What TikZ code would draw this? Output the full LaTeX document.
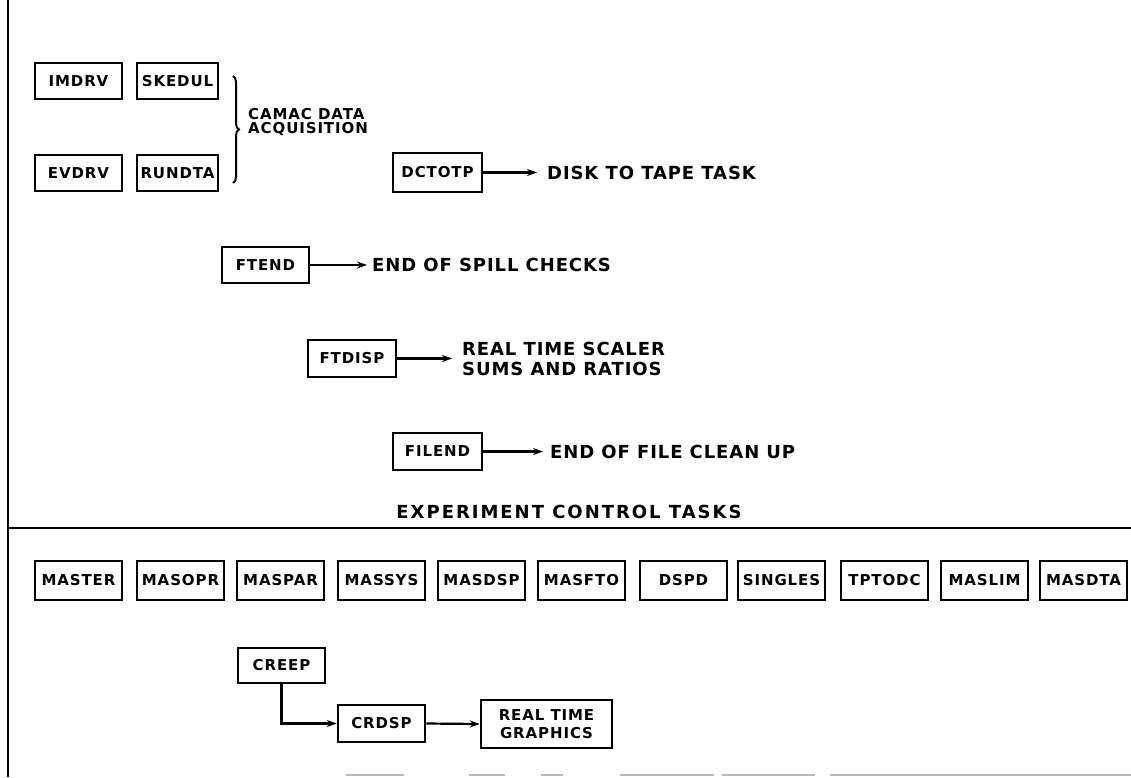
\documentclass[tikz,border=0pt]{standalone}
\usepackage{fontspec}
\usetikzlibrary{arrows.meta,decorations.pathreplacing}
\newfontfamily\boxfam{DejaVu Sans}[LetterSpace=6]
\newfontfamily\sidefam{DejaVu Sans}[LetterSpace=5]
\newfontfamily\titlefam{DejaVu Sans}[LetterSpace=11]
\tikzset{
  box/.style={draw, line width=2.6pt, minimum width=87pt, minimum height=37pt, inner sep=0pt,
    font=\boxfam\bfseries\fontsize{15}{18}\selectfont, align=center},
  side/.style={anchor=west, inner sep=0pt, align=left,
    font=\sidefam\bfseries\fontsize{18}{20}\selectfont},
  arr/.style={line width=2.2pt, -{Stealth[length=10pt,width=7pt]}},
  frame/.style={line width=2.2pt},
}
\begin{document}
\begin{tikzpicture}[x=1pt,y=-1pt]
\useasboundingbox (0,0) rectangle (1131,777);
% frame lines
\coordinate (ltop) at (8,0);
\coordinate (lbot) at (8,777);
\coordinate (hl) at (8,528);
\coordinate (hr) at (1131,528);
\draw[frame] (ltop) -- (lbot);
\draw[frame] (hl) -- (hr);
% faint broken bottom line
\draw[gray!55, line width=1.2pt] (346,775) -- (404,775) (469,775) -- (505,775) (541,775) -- (563,775)
  (620,775) -- (714,775) (722,775) -- (815,775) (830,775) -- (1131,775);

% CAMAC group
\node[box, minimum height=36pt] (imdrv) at (78.5,81) {IMDRV};
\node[box, minimum height=36pt, minimum width=81pt] (skedul) at (177.5,81) {SKEDUL};
\node[box, minimum height=36pt] (evdrv) at (78.5,173) {EVDRV};
\node[box, minimum height=36pt, minimum width=81pt] (rundta) at (177.5,173) {RUNDTA};
\draw[decorate, decoration={brace, amplitude=6pt}, line width=2pt] (233,76) -- (233,183);
\node[anchor=west, inner sep=0pt, align=left,
  font=\boxfam\bfseries\fontsize{15}{14}\selectfont] (camac) at (248,122) {CAMAC DATA\\ACQUISITION};

% DCTOTP
\node[box, minimum width=89pt, minimum height=39pt] (dctotp) at (437.5,172.5) {DCTOTP};
\coordinate (dctotpE) at (537,172.5);
\draw[arr] (dctotp.east) -- (dctotpE);
\node[side] (disk) at (547,172.5) {DISK TO TAPE TASK};

% FTEND
\node[box, minimum height=36pt] (ftend) at (265.5,265) {FTEND};
\coordinate (ftendE) at (367,265);
\draw[arr] (ftend.east) -- (ftendE);
\node[side] (spill) at (372,265) {END OF SPILL CHECKS};

% FTDISP
\node[box, minimum width=88pt] (ftdisp) at (352,358.5) {FTDISP};
\coordinate (ftdispE) at (452,358.5);
\draw[arr] (ftdisp.east) -- (ftdispE);
\node[side] (scaler) at (462,358.5) {REAL TIME SCALER\\SUMS AND RATIOS};

% FILEND
\node[box, minimum width=89pt] (filend) at (437.5,451.5) {FILEND};
\coordinate (filendE) at (543,451.5);
\draw[arr] (filend.east) -- (filendE);
\node[side] (eof) at (550,451.5) {END OF FILE CLEAN UP};

% title
\node[inner sep=0pt, font=\titlefam\bfseries\fontsize{18}{20}\selectfont] (title) at (569,512) {EXPERIMENT CONTROL TASKS};

% row of control tasks
\node[box, minimum height=39pt] (master) at (78.5,580.5) {MASTER};
\node[box, minimum height=39pt] (masopr) at (180.5,580.5) {MASOPR};
\node[box, minimum height=39pt] (maspar) at (280.5,580.5) {MASPAR};
\node[box, minimum height=39pt] (massys) at (381.5,580.5) {MASSYS};
\node[box, minimum height=39pt] (masdsp) at (481.5,580.5) {MASDSP};
\node[box, minimum height=39pt] (masfto) at (581.5,580.5) {MASFTO};
\node[box, minimum height=39pt] (dspd) at (683.5,580.5) {DSPD};
\node[box, minimum height=39pt] (singles) at (781.5,580.5) {SINGLES};
\node[box, minimum height=39pt] (tptodc) at (884.5,580.5) {TPTODC};
\node[box, minimum height=39pt] (maslim) at (984.5,580.5) {MASLIM};
\node[box, minimum height=39pt] (masdta) at (1083.5,580.5) {MASDTA};

% CREEP chain
\node[box, minimum height=35pt] (creep) at (281.5,665.5) {CREEP};
\node[box, minimum height=37pt] (crdsp) at (381.5,723.5) {CRDSP};
\node[box, minimum width=131pt, minimum height=48pt] (rtg) at (546.5,724) {REAL TIME\\GRAPHICS};
\draw[arr] (creep.south) |- (crdsp.west);
\draw[arr] (crdsp.east) -- (rtg.west);
\end{tikzpicture}
\end{document}
